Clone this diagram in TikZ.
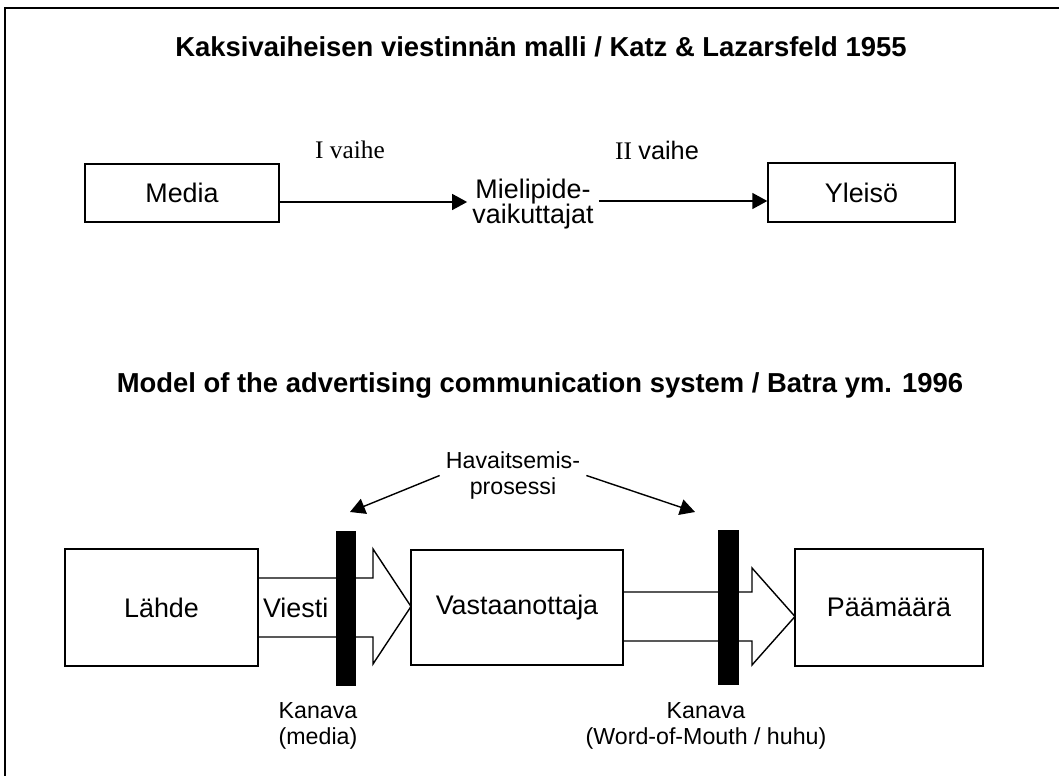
\documentclass[tikz,border=0pt]{standalone}
\usepackage{fontspec}
\setmainfont{Liberation Sans}
\newfontfamily\vaiheserif{Liberation Serif}
\usetikzlibrary{arrows.meta,positioning,calc}

\begin{document}
\begin{tikzpicture}[
  x=0.02cm, y=-0.02cm,
  titletext/.style={font=\fontsize{15.6}{18}\selectfont\bfseries},
  boxtext/.style={font=\fontsize{15.3}{14.4}\selectfont, align=center},
  smalltext/.style={font=\fontsize{13.2}{14.6}\selectfont, align=center},
  serifstep/.style={font=\fontsize{14.4}{16}\selectfont\vaiheserif},
  stagebox/.style={draw, line width=0.8pt, boxtext, inner sep=0pt},
  channelbar/.style={draw=black, fill=black, line width=0.4pt, inner sep=0pt, minimum height=3.08cm},
  flow/.style={-{Triangle[length=0.3cm, width=0.32cm]}, line width=0.8pt},
  blockarrow/.style={draw, fill=white, line width=0.8pt, line join=miter},
]
\useasboundingbox (0,0) rectangle (1059,776);
% page frame (scan shows top and left edge only)
\draw[line width=1.1pt] (1059,8) -- (5,8) -- (5,776);

% --- Katz & Lazarsfeld
\node[titletext] (title1) at (541,47) {Kaksivaiheisen viestinnän malli / Katz \& Lazarsfeld 1955};
\node[stagebox, minimum width=3.88cm, minimum height=1.16cm] (media) at (182,193) {Media};
\node[stagebox, minimum width=3.74cm, minimum height=1.18cm] (yleiso) at (861.5,192.5) {Yleisö};
\node[boxtext, inner sep=0.1cm] (mielipide) at (533,204) {Mielipide-\\vaikuttajat};
\node[serifstep] (vaihe1) at (350,150) {I vaihe};
\node[serifstep] (vaihe2) at (657,150) {II {\rmfamily vaihe}};
\draw[flow] (media.east |- 0,202) -- (mielipide.west |- 0,202);
\draw[flow] (mielipide.east |- 0,201) -- (yleiso.west |- 0,201);

% --- Batra ym.
\node[titletext] (title2) at (540,385) {Model of the advertising communication system / Batra ym. 1996};
\foreach \xa/\xb/\tipx/\ya/\yb/\ha/\hb in {
  258/373/411/578/637/549/664,
  623/752/795/592/641/568/665
} {
  \pgfmathsetmacro{\tipy}{(\ha + \hb) / 2}
  \draw[blockarrow] (\xa,\ya) -- (\xb,\ya) -- (\xb,\ha) -- (\tipx,\tipy)
    -- (\xb,\hb) -- (\xb,\yb) -- (\xa,\yb);
}
\node[channelbar, minimum width=0.38cm] (kanava1bar) at (345.5,608) {};
\node[channelbar, minimum width=0.40cm] (kanava2bar) at (728,607.5) {};
\node[stagebox, minimum width=3.86cm, minimum height=2.34cm] (lahde) at (161.5,607.5) {Lähde};
\node[stagebox, minimum width=4.24cm, minimum height=2.30cm] (vastaanottaja) at (517,607.5) {Vastaanottaja};
\node[stagebox, minimum width=3.76cm, minimum height=2.34cm] (paamaara) at (889,607.5) {Päämäärä};
\node[boxtext, anchor=west, inner sep=0.08cm] (viesti) at (lahde.east) {Viesti};

\node[smalltext, inner sep=0.12cm] (havaitsemis) at (513,475.5) {Havaitsemis-\\prosessi};
\coordinate (hav1) at (350,512);
\coordinate (hav2) at (695,512);
\draw[flow] (havaitsemis.west) -- (hav1);
\draw[flow] (havaitsemis.east) -- (hav2);

\node[smalltext] (kanava1) at (318,726) {Kanava\\(media)};
\node[smalltext] (kanava2) at (706,726) {Kanava\\(Word-of-Mouth / huhu)};
\end{tikzpicture}
\end{document}
